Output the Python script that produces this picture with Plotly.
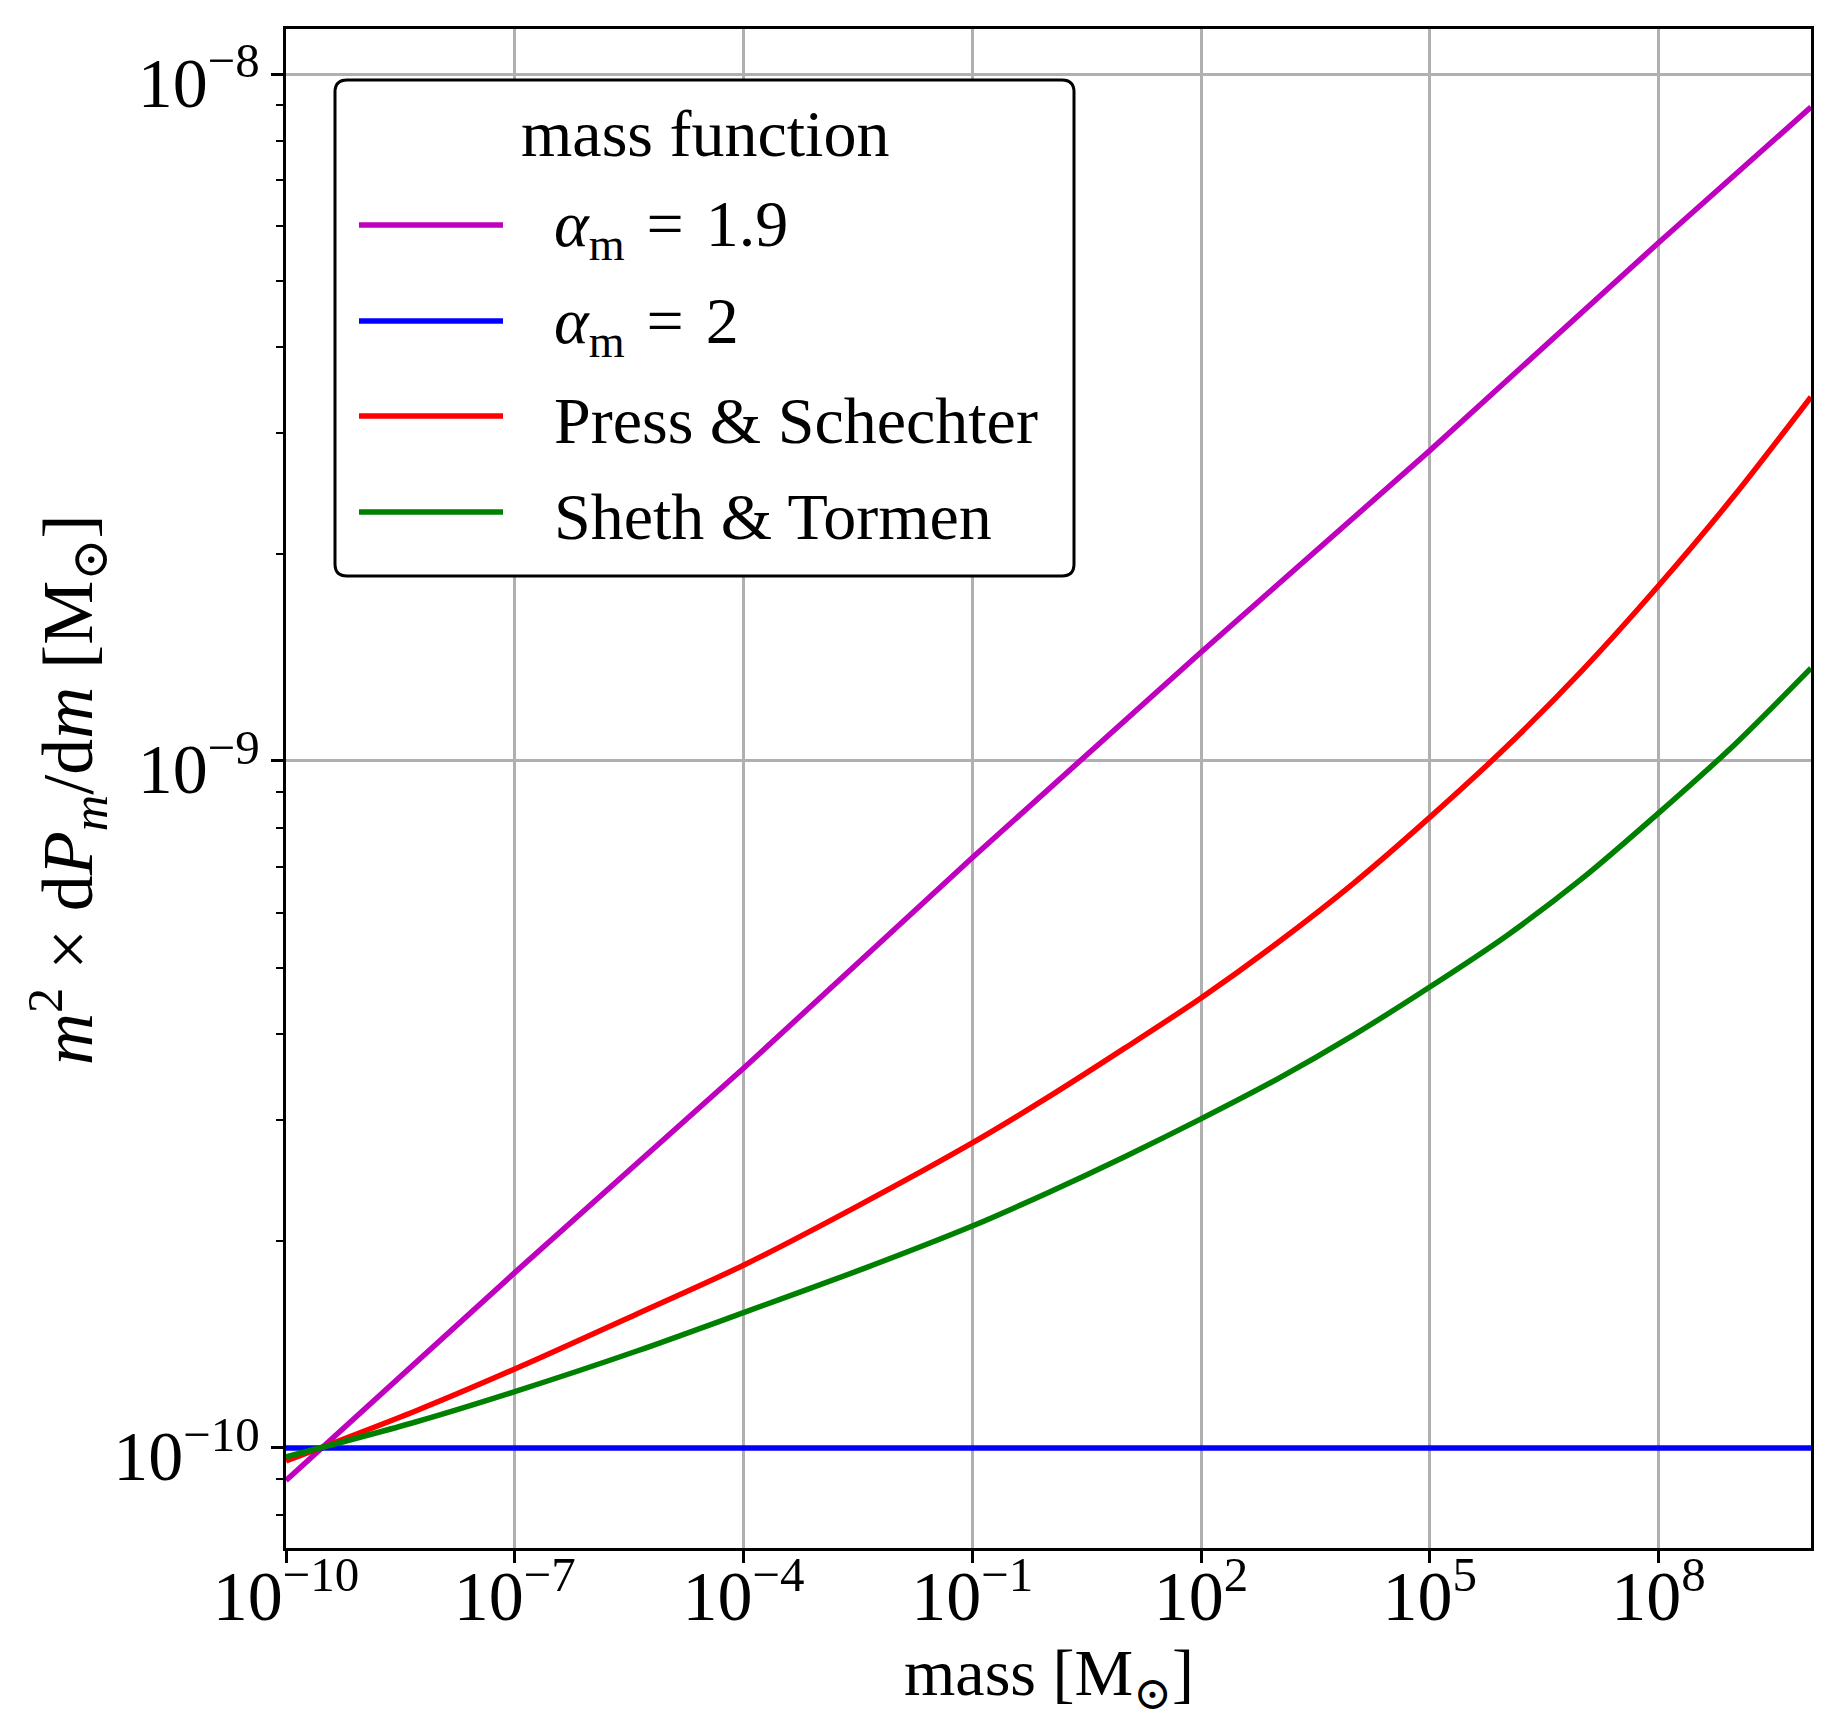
import plotly.graph_objects as go

# ---- data ----
mass_pl = [1e-10, 1e-7, 1e-4, 1e-1, 1e2, 1e5, 1e8, 1e10]
alpha19 = [8.97e-11, 1.80e-10, 3.57e-10, 7.23e-10, 1.44e-9, 2.83e-9, 5.68e-9, 8.95e-9]

mass_flat = [1e-10, 1e10]
alpha2 = [1e-10, 1e-10]

mass_hmf = [1e-10, 5e-9, 1e-7, 4e-6, 1e-4, 3e-3, 1e-1, 1e0, 1e1, 1e2, 1e3, 1e4,
            1e5, 1e6, 1e7, 1e8, 1e9, 1e10]
press_schechter = [9.572e-11, 1.132e-10, 1.303e-10, 1.567e-10, 1.845e-10, 2.244e-10,
                   2.780e-10, 3.243e-10, 3.819e-10, 4.519e-10, 5.433e-10, 6.637e-10,
                   8.279e-10, 1.047e-9, 1.355e-9, 1.799e-9, 2.438e-9, 3.388e-9]
sheth_tormen = [9.705e-11, 1.091e-10, 1.208e-10, 1.384e-10, 1.574e-10, 1.807e-10,
                2.104e-10, 2.355e-10, 2.655e-10, 3.013e-10, 3.443e-10, 3.990e-10,
                4.688e-10, 5.559e-10, 6.745e-10, 8.395e-10, 1.057e-9, 1.365e-9]

series_names = ["<i>α</i><sub>m</sub>\u2004=\u20041.9", "<i>α</i><sub>m</sub>\u2004=\u20042",
                "Press &amp; Schechter", "Sheth &amp; Tormen"]
series_colors = ["#bf00bf", "#0000ff", "#ff0000", "#008000"]
legend_title = "mass function"
x_title = "mass [M<sub>⊙</sub>]"
y_title = "<i>m</i><sup>2</sup> × d<i>P</i><sub><i>m</i></sub>/d<i>m</i> [M<sub>⊙</sub>]"

FONT = "Liberation Serif, DejaVu Serif, serif"
FS = 66
TFS = 56
LW = 5.5

W, H = 1844, 1735
ML, MR, MT, MB = 286, 33, 29, 187
PW = W - ML - MR
PH = H - MT - MB

def px(xp):
    return (xp - ML) / PW

def py(yp):
    return (H - MB - yp) / PH

fig = go.Figure()
xs = [mass_pl, mass_flat, mass_hmf, mass_hmf]
ys = [alpha19, alpha2, press_schechter, sheth_tormen]
shapes_ = ["linear", "linear", "spline", "spline"]
for i in range(4):
    fig.add_trace(go.Scatter(x=xs[i], y=ys[i], mode="lines", name=series_names[i],
                             line=dict(color=series_colors[i], width=LW, shape=shapes_[i],
                                       smoothing=0.8),
                             showlegend=False))

shapes = []
annotations = []

# legend box with rounded corners
x0, x1 = px(335), px(1074)
y0, y1 = py(576), py(80)
rx = 12 / PW
ry = 12 / PH
path = (f"M {x0+rx},{y1} L {x1-rx},{y1} Q {x1},{y1} {x1},{y1-ry} "
        f"L {x1},{y0+ry} Q {x1},{y0} {x1-rx},{y0} L {x0+rx},{y0} "
        f"Q {x0},{y0} {x0},{y0+ry} L {x0},{y1-ry} Q {x0},{y1} {x0+rx},{y1} Z")
shapes.append(dict(type="path", xref="paper", yref="paper", path=path,
                   fillcolor="white", line=dict(color="black", width=3), layer="above"))

annotations.append(dict(xref="paper", yref="paper", x=px(705), y=py(133),
                        text=legend_title, showarrow=False, xanchor="center", yanchor="middle",
                        font=dict(family=FONT, size=FS, color="black")))
row_y = [225, 321, 416, 512]
for i in range(4):
    shapes.append(dict(type="line", xref="paper", yref="paper",
                       x0=px(359), x1=px(503), y0=py(row_y[i]), y1=py(row_y[i]),
                       line=dict(color=series_colors[i], width=LW), layer="above"))
    annotations.append(dict(xref="paper", yref="paper", x=px(552), y=py(row_y[i] + 4),
                            text=series_names[i], showarrow=False, xanchor="left", yanchor="middle",
                            font=dict(family=FONT, size=FS, color="black")))

annotations.append(dict(xref="paper", yref="paper", x=0.5, y=py(1677), text=x_title,
                        showarrow=False, xanchor="center", yanchor="middle",
                        font=dict(family=FONT, size=FS, color="black")))
annotations.append(dict(xref="paper", yref="paper", x=px(68), y=py(790), text=y_title,
                        showarrow=False, xanchor="center", yanchor="middle", textangle=-90,
                        font=dict(family=FONT, size=72, color="black")))

fig.update_layout(
    width=W, height=H,
    margin=dict(l=ML, r=MR, t=MT, b=MB),
    paper_bgcolor="white", plot_bgcolor="white",
    font=dict(family=FONT, size=FS, color="black"),
    shapes=shapes, annotations=annotations,
    showlegend=False,
)
fig.update_xaxes(type="log", range=[-10, 10], dtick=3, tick0=-1,
                 exponentformat="power", showexponent="all",
                 showgrid=True, gridcolor="#b0b0b0", gridwidth=2.5,
                 showline=True, mirror=True, linecolor="black", linewidth=3,
                 ticks="outside", ticklen=12, tickwidth=2.5, tickcolor="black",
                 ticklabelstandoff=-24,
                 tickfont=dict(family=FONT, size=TFS), zeroline=False)
fig.update_yaxes(type="log", range=[-10.1456, -7.9345], dtick=1,
                 exponentformat="power", showexponent="all",
                 showgrid=True, gridcolor="#b0b0b0", gridwidth=2.5,
                 showline=True, mirror=True, linecolor="black", linewidth=3,
                 ticks="outside", ticklen=12, tickwidth=2.5, tickcolor="black",
                 ticklabelshift=8,
                 minor=dict(ticks="outside", ticklen=7, tickwidth=2, tickcolor="black",
                            dtick="D1", showgrid=False),
                 tickfont=dict(family=FONT, size=TFS), zeroline=False)

fig.write_html("out.html", config={"displayModeBar": False},
               post_script="document.body.style.margin='0';")
